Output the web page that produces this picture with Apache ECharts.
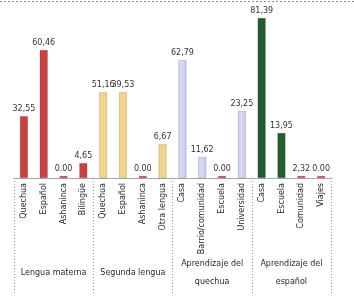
<!DOCTYPE html>
<html>
<head>
<meta charset="utf-8">
<script src="https://cdn.jsdelivr.net/npm/echarts@6/dist/echarts.min.js"></script>
<style>html,body{margin:0;padding:0;background:#fff}#c{width:354px;height:301px}</style>
</head>
<body>
<div id="c"></div>
<script>
// Categories (lower level) and groups (upper level)
var categories = ['Quechua','Español','Ashaninca','Bilingüe',
                  'Quechua','Español','Ashaninca','Otra lengua',
                  'Casa','Barrio/comunidad','Escuela','Universidad',
                  'Casa','Escuela','Comunidad','Viajes'];
var groups = ['Lengua materna','Segunda lengua','Aprendizaje del\nquechua','Aprendizaje del\nespañol'];
// Printed data labels
var labelValues = ['32,55','60,46','0.00','4,65',
                   '51,16','39,53','0.00','6,67',
                   '62,79','11,62','0.00','23,25',
                   '81,39','13,95','2,32','0.00'];
// Bar heights as drawn in the picture (estimated)
var barValues = [31.5, 65.1, 0, 7.6,
                 43.7, 43.7, 0, 17.3,
                 60.0, 10.7, 0, 34.1,
                 81.4, 22.9, 0.8, 0];
var groupColors = ['#c94242', '#f0d48a',
  {type: 'linear', x: 0, y: 0, x2: 1, y2: 0,
   colorStops: [{offset: 0, color: '#c4d6f6'}, {offset: 0.5, color: '#dcd6f4'}, {offset: 1, color: '#c8c4ec'}]},
  '#245c2e'];
var sliverColor = '#cc3a3a';

var chart = echarts.init(document.getElementById('c'), null, {renderer:'canvas'});
var FONT = 'DejaVu Sans';
chart.setOption({
  animation: false,
  backgroundColor: '#ffffff',
  graphic: [{
    type: 'line', silent: true,
    shape: {x1: 0, y1: 1.5, x2: 354, y2: 1.5},
    style: {stroke: '#8a8a8a', lineWidth: 1, lineDash: [2, 2]}
  }],
  grid: {left: 14, right: 23, top: 11, bottom: 123, containLabel: false},
  xAxis: [{
    type: 'category',
    data: categories,
    position: 'bottom',
    axisLine: {show: true, lineStyle: {color: '#a8a8a8', width: 1}},
    axisTick: {show: false},
    axisLabel: {interval: 0, rotate: 90, margin: 5, fontFamily: FONT, fontSize: 8, color: '#2a2a2a'}
  }, {
    type: 'category',
    data: groups,
    position: 'bottom',
    axisLine: {show: false},
    axisTick: {show: true, length: 117, interval: 0,
      lineStyle: {color: '#9a9a9a', width: 1, type: [1, 2]}},
    axisLabel: {interval: 0, margin: 95, verticalAlign: 'middle', lineHeight: 18,
      fontFamily: FONT, fontSize: 8, color: '#2a2a2a'}
  }],
  yAxis: {type: 'value', min: 0, max: 85, show: false, splitLine: {show: false}},
  series: [{
    type: 'bar',
    xAxisIndex: 0,
    data: barValues,
    barWidth: 8,
    barMinHeight: 2,
    itemStyle: {
      color: function (p) {
        var v = parseFloat(labelValues[p.dataIndex].replace(',', '.'));
        if (v < 3) return sliverColor;
        return groupColors[Math.floor(p.dataIndex / 4)];
      },
      borderColor: 'rgba(0,0,0,0.25)', borderWidth: 0.5
    },
    label: {
      show: true, position: 'top', distance: 3,
      fontFamily: FONT, fontSize: 8, color: '#333',
      formatter: function (p) { return labelValues[p.dataIndex]; }
    }
  }]
});
</script>
</body>
</html>
